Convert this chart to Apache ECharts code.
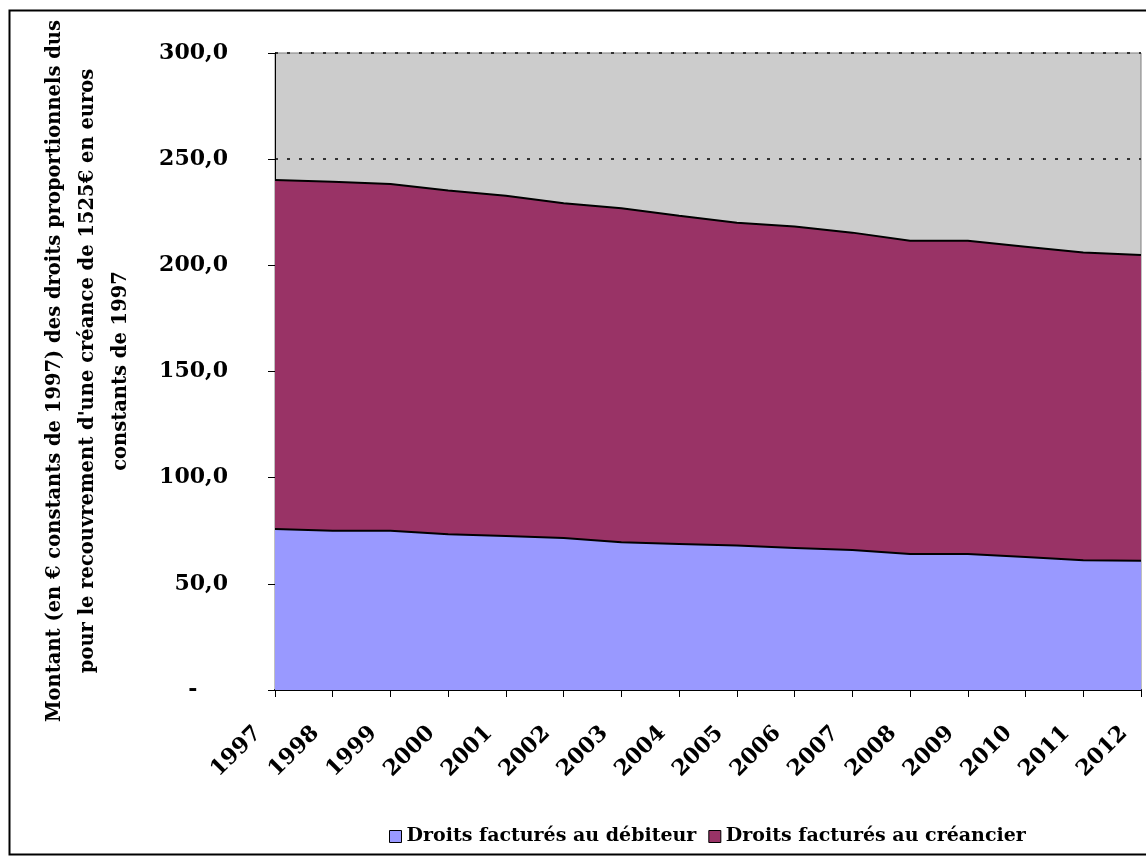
<!DOCTYPE html>
<html>
<head>
<meta charset="utf-8">
<script src="https://cdn.jsdelivr.net/npm/echarts@6/dist/echarts.min.js"></script>
<style>
html,body{margin:0;padding:0;background:#fff;}
#chart{width:1146px;height:857px;}
</style>
</head>
<body>
<div id="chart"></div>
<script>
var years = ['1997','1998','1999','2000','2001','2002','2003','2004','2005','2006','2007','2008','2009','2010','2011','2012'];
var debiteur = [75.8,75.0,75.0,73.3,72.5,71.6,69.6,68.8,68.0,66.9,65.9,64.1,64.1,62.6,61.1,60.9];
var creancier = [164.4,164.4,163.3,161.9,160.3,157.6,157.3,154.6,152.1,151.4,149.5,147.5,147.5,146.2,144.9,144.0];
var seriesNames = ['Droits facturés au débiteur','Droits facturés au créancier'];
var yTitle = "Montant (en € constants de 1997) des droits proportionnels dus\npour le recouvrement d'une créance de 1525€ en euros\nconstants de 1997";

var FONT = 'DejaVu Serif';
var chart = echarts.init(document.getElementById('chart'));
chart.setOption({
  animation: false,
  backgroundColor: '#fff',
  grid: {left: 275, right: 5, top: 53, bottom: 167, show: true, backgroundColor: '#CCCCCC', borderColor: '#808080', borderWidth: 1},
  legend: {
    top: 822, left: 384,
    itemWidth: 12, itemHeight: 12, itemGap: 12,
    textStyle: {fontFamily: FONT, fontWeight: 'bold', fontSize: 19, color: '#000'},
    data: [
      {name: seriesNames[0], icon: 'rect', itemStyle: {color: '#9999FF', borderColor: '#000', borderWidth: 1}},
      {name: seriesNames[1], icon: 'rect', itemStyle: {color: '#993366', borderColor: '#000', borderWidth: 1}}
    ]
  },
  xAxis: {
    type: 'category', boundaryGap: false, data: years,
    axisLine: {lineStyle: {color: '#000', width: 2}},
    axisTick: {show: true, length: 7, lineStyle: {color: '#000'}},
    axisLabel: {rotate: 45, margin: 23, padding: [0, 24, 0, 0], fontFamily: FONT, fontWeight: 'bold', fontSize: 22, color: '#000'}
  },
  yAxis: {
    type: 'value', min: 0, max: 300, interval: 50,
    axisLine: {show: true, lineStyle: {color: '#000', width: 1}},
    axisTick: {show: true, length: 7, lineStyle: {color: '#000'}},
    axisLabel: {margin: 47, fontFamily: FONT, fontWeight: 'bold', fontSize: 22, color: '#000',
      formatter: function(v){ return v === 0 ? '-\u00a0\u00a0\u00a0\u00a0' : v.toFixed(1).replace('.', ','); }},
    splitLine: {show: true, lineStyle: {color: '#333', width: 2, type: [3, 9]}}
  },
  series: [
    {name: seriesNames[0], type: 'line', stack: 'tot', data: debiteur, symbol: 'none',
     lineStyle: {color: '#000', width: 2}, itemStyle: {color: '#9999FF'},
     areaStyle: {color: '#9999FF', opacity: 1}},
    {name: seriesNames[1], type: 'line', stack: 'tot', data: creancier, symbol: 'none',
     lineStyle: {color: '#000', width: 2}, itemStyle: {color: '#993366'},
     areaStyle: {color: '#993366', opacity: 1}}
  ],
  graphic: [
    {type: 'rect', shape: {x: 9.5, y: 10.5, width: 1150, height: 844}, style: {fill: 'none', stroke: '#000', lineWidth: 2}, silent: true, z: 100},
    {type: 'text', x: 88, y: 371, rotation: Math.PI / 2,
     style: {text: yTitle, fontFamily: FONT, fontWeight: 'bold', fontSize: 19.5, lineHeight: 33, fill: '#000', align: 'center', verticalAlign: 'middle'}}
  ]
});
</script>
</body>
</html>
